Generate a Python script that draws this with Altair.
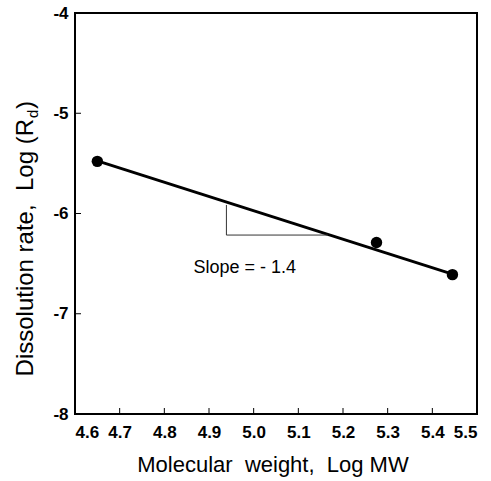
import altair as alt
import pandas as pd

# data
log_mw = [4.65, 5.275, 5.445]
log_rd = [-5.48, -6.29, -6.61]

fit_x = [4.65, 5.445]
fit_y = [-5.475, -6.605]

tri_x = [4.939, 4.939, 5.166]
tri_y = [-5.915, -6.215, -6.215]

slope_label = "Slope = - 1.4"
slope_pos = (4.98, -6.54)

x_ticks = [4.6, 4.7, 4.8, 4.9, 5.0, 5.1, 5.2, 5.3, 5.4, 5.5]
y_ticks = [-8, -7, -6, -5, -4]
x_inner_ticks = [4.7, 4.8, 4.9, 5.0, 5.1, 5.2, 5.3, 5.4]
y_inner_ticks = [-7, -6, -5]

NB = "\u00a0"
x_title = f"Molecular{NB}{NB}weight,{NB}{NB}Log{NB}MW"
y_title_main = f"Dissolution{NB}rate,{NB}{NB}Log{NB}(R"
y_title_sub = "d"
y_title_end = ")"

FONT = "Liberation Sans"
W, H = 402, 401

pts = pd.DataFrame({"x": log_mw, "y": log_rd})
fit = pd.DataFrame({"x": fit_x, "y": fit_y})
tri = pd.DataFrame({"x": tri_x, "y": tri_y, "o": [0, 1, 2]})
lab = pd.DataFrame({"x": [slope_pos[0]], "y": [slope_pos[1]], "t": [slope_label]})
xt = pd.DataFrame({"x": x_inner_ticks})
yt = pd.DataFrame({"y": y_inner_ticks})

xs = alt.Scale(domain=[4.6, 5.5], nice=False, zero=False)
ys = alt.Scale(domain=[-8, -4], nice=False, zero=False)

xax = alt.Axis(values=x_ticks, format=".1f", title=None, grid=False, domain=False,
               tickSize=0, labelFont=FONT, labelFontSize=17, labelFontWeight="bold",
               labelColor="black", labelPadding=10)
yax = alt.Axis(values=y_ticks, labelExpr="'' + datum.value", title=None, grid=False,
               domain=False, tickSize=0, labelFont=FONT, labelFontSize=17,
               labelFontWeight="bold", labelColor="black", labelPadding=7)

base_pts = alt.Chart(pts).mark_circle(size=130, color="black", opacity=1).encode(
    x=alt.X("x:Q", scale=xs, axis=xax),
    y=alt.Y("y:Q", scale=ys, axis=yax),
)

line = alt.Chart(fit).mark_line(color="black", strokeWidth=2.8).encode(
    x=alt.X("x:Q", scale=xs), y=alt.Y("y:Q", scale=ys)
)

triangle = alt.Chart(tri).mark_line(color="#333333", strokeWidth=1).encode(
    x=alt.X("x:Q", scale=xs), y=alt.Y("y:Q", scale=ys), order="o:O"
)

slope_text = alt.Chart(lab).mark_text(font=FONT, fontSize=18, color="black",
                                      align="center", baseline="middle").encode(
    x=alt.X("x:Q", scale=xs), y=alt.Y("y:Q", scale=ys), text="t:N"
)

xticks = alt.Chart(xt).mark_rule(color="black", strokeWidth=1).encode(
    x=alt.X("x:Q", scale=xs), y=alt.value(H), y2=alt.value(H - 6)
)
yticks = alt.Chart(yt).mark_rule(color="black", strokeWidth=1).encode(
    y=alt.Y("y:Q", scale=ys), x=alt.value(0), x2=alt.value(6)
)

# axis titles
xtitle = alt.Chart(pd.DataFrame({"t": [x_title]})).mark_text(
    font=FONT, fontSize=22, color="black", align="center", baseline="alphabetic"
).encode(x=alt.value(W / 2 - 3), y=alt.value(459), text="t:N")

ytitle_main = alt.Chart(pd.DataFrame({"t": [y_title_main]})).mark_text(
    font=FONT, fontSize=24, color="black", angle=270, align="right", baseline="alphabetic"
).encode(x=alt.value(-42), y=alt.value(106), text="t:N")
ytitle_sub = alt.Chart(pd.DataFrame({"t": [y_title_sub]})).mark_text(
    font=FONT, fontSize=15, color="black", angle=270, align="left", baseline="alphabetic"
).encode(x=alt.value(-37), y=alt.value(105), text="t:N")
ytitle_end = alt.Chart(pd.DataFrame({"t": [y_title_end]})).mark_text(
    font=FONT, fontSize=24, color="black", angle=270, align="left", baseline="alphabetic"
).encode(x=alt.value(-42), y=alt.value(96), text="t:N")

chart = alt.layer(
    base_pts, line, triangle, slope_text, xticks, yticks,
    xtitle, ytitle_main, ytitle_sub, ytitle_end
).properties(
    width=W, height=H,
    autosize=alt.AutoSizeParams(type="none"),
    padding={"left": 75, "top": 13, "right": 14, "bottom": 67},
    background="white",
).configure_view(stroke="black", strokeWidth=2)

chart.save("out.html", embed_options={"renderer": "svg", "actions": False})
